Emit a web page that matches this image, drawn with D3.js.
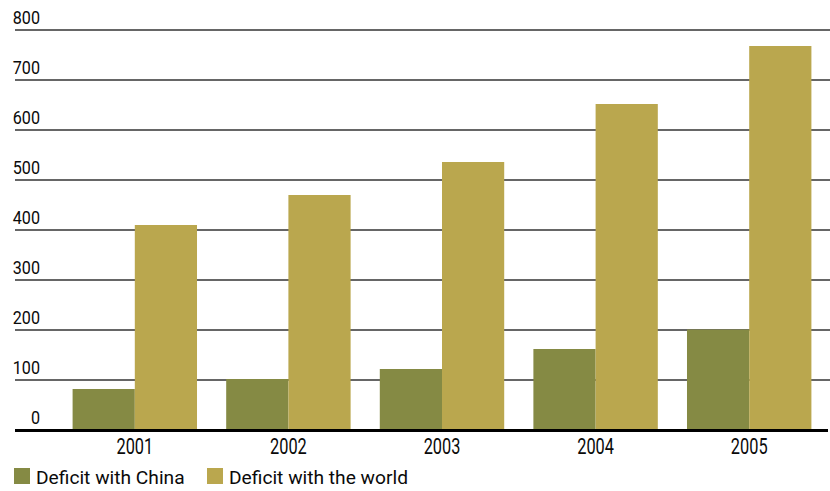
<!DOCTYPE html>
<html><head><meta charset="utf-8">
<script src="https://cdn.jsdelivr.net/npm/d3@7"></script>
<style>
body{margin:0;background:#fff;}
text{font-family:Roboto,"Liberation Sans",sans-serif;fill:#0a0a0a;}
</style></head>
<body>
<svg id="c" width="830" height="491"></svg>
<script>
const years = ["2001","2002","2003","2004","2005"];
const seriesNames = ["Deficit with China","Deficit with the world"];
const chinaValues = [82, 102, 122, 162, 201];
const worldValues = [410, 470, 536, 652, 768];
const yTicks = [0,100,200,300,400,500,600,700,800];
const colors = ["#858a44","#baa74e"];

const svg = d3.select("#c");
const y = d3.scaleLinear().domain([0,800]).range([430,30]);
const x0 = d3.scaleBand().domain(years).range([58,826]).paddingInner(0.19).paddingOuter(0.095);
const x1 = d3.scaleBand().domain(seriesNames).range([0,x0.bandwidth()]);

// gridlines
svg.append("g").selectAll("line").data(yTicks.filter(d=>d>0)).join("line")
  .attr("x1",15).attr("x2",830).attr("y1",d=>y(d)).attr("y2",d=>y(d))
  .attr("stroke","#333").attr("stroke-width",1.4);

// y labels
svg.append("g").selectAll("g").data(yTicks).join("g")
  .attr("transform",d=>`translate(40,${y(d)-6}) scale(0.86,1)`)
  .append("text").attr("text-anchor","end").attr("font-size",18.8).text(d=>d);

// bars
const data = years.map((yr,i)=>({year:yr, vals:[chinaValues[i], worldValues[i]]}));
const g = svg.append("g").selectAll("g").data(data).join("g")
  .attr("transform",d=>`translate(${x0(d.year)},0)`);
g.selectAll("rect").data(d=>d.vals.map((v,j)=>({name:seriesNames[j],v,j}))).join("rect")
  .attr("x",d=>x1(d.name)).attr("width",x1.bandwidth())
  .attr("y",d=>y(d.v)).attr("height",d=>y(0)-y(d.v))
  .attr("fill",d=>colors[d.j]);

// baseline
svg.append("line").attr("x1",15).attr("x2",828).attr("y1",y(0)+0.5).attr("y2",y(0)+0.5)
  .attr("stroke","#000").attr("stroke-width",3);

// x labels
svg.append("g").selectAll("g").data(years).join("g")
  .attr("transform",d=>`translate(${x0(d)+x0.bandwidth()/2},454) scale(0.76,1)`)
  .append("text").attr("text-anchor","middle").attr("font-size",21.5).text(d=>d);

// legend
const legX = [14,207];
const leg = svg.append("g").selectAll("g").data(seriesNames).join("g")
  .attr("transform",(d,i)=>`translate(${legX[i]},468)`);
leg.append("rect").attr("width",16).attr("height",16).attr("fill",(d,i)=>colors[i]);
leg.append("text").attr("x",22).attr("y",15.5).attr("font-size",19.2).text(d=>d);
</script>
</body></html>
